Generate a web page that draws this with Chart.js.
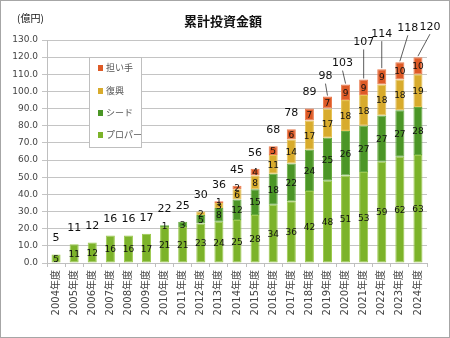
<!DOCTYPE html>
<html>
<head>
<meta charset="utf-8">
<script src="https://cdn.jsdelivr.net/npm/chart.js@4"></script>
<style>
    html, body { margin: 0; padding: 0; background: #fff; }
    #wrap { width: 450px; height: 338px; box-sizing: border-box; border: 1px solid #a6a6a6; }
</style>
</head>
<body>
<div id="wrap"><canvas id="chart"></canvas></div>
<script>
// Data (億円)
const years = ['2004年度', '2005年度', '2006年度', '2007年度', '2008年度', '2009年度', '2010年度',
    '2011年度', '2012年度', '2013年度', '2014年度', '2015年度', '2016年度', '2017年度',
    '2018年度', '2019年度', '2020年度', '2021年度', '2022年度', '2023年度', '2024年度'];
const proper  = [5, 11, 12, 16, 16, 17, 21, 21, 23, 24, 25, 28, 34, 36, 42, 48, 51, 53, 59, 62, 63];
const seed    = [0, 0, 0, 0, 0, 0, 1, 3, 5, 8, 12, 15, 18, 22, 24, 25, 26, 27, 27, 27, 28];
const revival = [0, 0, 0, 0, 0, 0, 0, 0, 2, 3, 6, 8, 11, 14, 17, 17, 18, 18, 18, 18, 19];
const bearers = [0, 0, 0, 0, 0, 0, 0, 0, 0, 1, 2, 4, 5, 6, 7, 7, 9, 9, 9, 10, 10];
const totals  = [5, 11, 12, 16, 16, 17, 22, 25, 30, 36, 45, 56, 68, 78, 89, 98, 103, 107, 114, 118, 120];
const yTicks  = [0, 130, 10]; // min, max, step

// Label offsets (px) for the totals that sit on leader lines
const leaderOffsets = {15: [-2, -20], 16: [-3, -21], 17: [0, -37], 18: [0, -35], 19: [8, -34], 20: [12, -30]};

const FONT = "'DejaVu Sans', 'Noto Sans CJK JP', sans-serif";
const CJK = "'Noto Sans CJK JP', sans-serif";

// Draws segment values, totals, title and the boxed legend
const labelPlugin = {
    id: 'labels',
    afterDatasetsDraw(chart) {
        const ctx = chart.ctx;
        const yScale = chart.scales.y;
        ctx.save();
        ctx.textAlign = 'center';
        ctx.textBaseline = 'middle';
        ctx.fillStyle = '#111';

        // segment values
        ctx.font = '9px ' + FONT;
        chart.data.datasets.forEach((ds, di) => {
            const meta = chart.getDatasetMeta(di);
            meta.data.forEach((bar, i) => {
                const v = ds.data[i];
                if (!v) return;
                const mid = (bar.y + bar.base) / 2;
                ctx.fillText(String(v), bar.x, mid + 1);
            });
        });

        // totals
        ctx.font = '11px ' + FONT;
        const meta0 = chart.getDatasetMeta(0);
        meta0.data.forEach((bar, i) => {
            const sum = proper[i] + seed[i] + revival[i] + bearers[i];
            const top = yScale.getPixelForValue(sum);
            const off = leaderOffsets[i];
            if (off) {
                const lx = bar.x + off[0];
                const ly = top + off[1];
                ctx.strokeStyle = '#333';
                ctx.lineWidth = 0.8;
                ctx.beginPath();
                ctx.moveTo(lx, ly + 7);
                ctx.lineTo(bar.x, top - 1);
                ctx.stroke();
                ctx.fillText(String(totals[i]), lx, ly);
            } else {
                ctx.fillText(String(totals[i]), bar.x, top - 16);
            }
        });

        // title and unit
        ctx.font = 'bold 13px ' + CJK;
        ctx.fillText('累計投資金額', 222, 20);
        ctx.font = '10px ' + CJK;
        ctx.textAlign = 'left';
        ctx.fillText('(億円)', 16, 17);

        // legend box
        ctx.fillStyle = '#fff';
        ctx.fillRect(88, 56, 52, 90);
        ctx.strokeStyle = '#bfbfbf';
        ctx.lineWidth = 1;
        ctx.strokeRect(88.5, 56.5, 52, 90);
        const items = [3, 2, 1, 0];
        const rows = [67, 90, 112, 134];
        ctx.font = '9px ' + CJK;
        items.forEach((di, k) => {
            const ds = chart.data.datasets[di];
            ctx.fillStyle = ds.backgroundColor;
            ctx.fillRect(97, rows[k] - 3, 5, 6);
            ctx.fillStyle = '#555';
            ctx.fillText(ds.label, 105, rows[k]);
        });
        ctx.restore();
    }
};

const ctx = document.getElementById('chart').getContext('2d');
new Chart(ctx, {
    type: 'bar',
    data: {
        labels: years,
        datasets: [
            { label: 'プロパー', data: proper, backgroundColor: '#7cb32a', borderColor: '#9cc94e' },
            { label: 'シード', data: seed, backgroundColor: '#4b9626', borderColor: '#67aa40' },
            { label: '復興', data: revival, backgroundColor: '#d8ab2c', borderColor: '#e6c254' },
            { label: '担い手', data: bearers, backgroundColor: '#de5a26', borderColor: '#ea7a4c' }
        ].map(d => Object.assign(d, {
            borderWidth: 1,
            borderSkipped: false,
            barPercentage: 0.5,
            categoryPercentage: 1
        }))
    },
    options: {
        responsive: true,
        maintainAspectRatio: false,
        animation: false,
        events: [],
        layout: { padding: { top: 39, right: 22, left: 0, bottom: 0 } },
        plugins: {
            legend: { display: false },
            tooltip: { enabled: false },
            title: { display: false }
        },
        scales: {
            x: {
                stacked: true,
                afterFit: s => { s.height = 74; },
                grid: { display: true, drawOnChartArea: false, tickLength: 4, color: '#bfbfbf' },
                border: { color: '#bfbfbf' },
                ticks: {
                    minRotation: 90,
                    maxRotation: 90,
                    padding: 3,
                    color: '#444',
                    font: { family: FONT, size: 10 }
                }
            },
            y: {
                stacked: true,
                min: yTicks[0],
                max: yTicks[1],
                afterFit: s => { s.width = 46; },
                grid: { color: '#c4c4c4', tickLength: 5 },
                border: { color: '#bfbfbf' },
                ticks: {
                    stepSize: yTicks[2],
                    padding: 4,
                    color: '#444',
                    font: { family: FONT, size: 9 },
                    callback: v => v.toFixed(1)
                }
            }
        }
    },
    plugins: [labelPlugin]
});
</script>
</body>
</html>
